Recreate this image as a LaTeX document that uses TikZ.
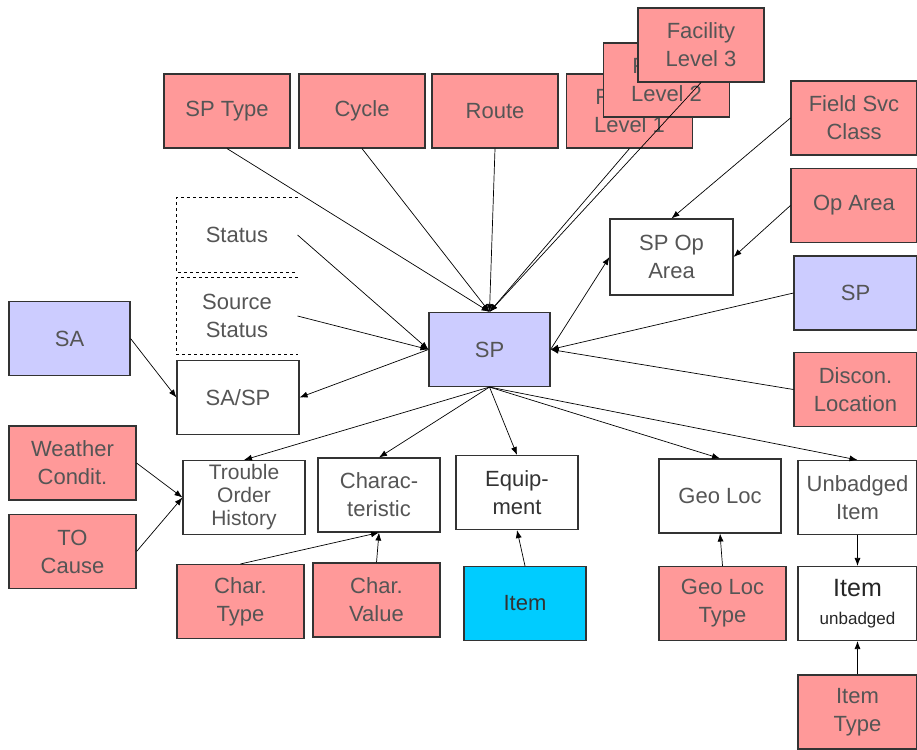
\documentclass[tikz,border=0pt]{standalone}
\usepackage{fontspec}
\setmainfont{Liberation Sans}
\usetikzlibrary{arrows.meta}

\definecolor{pinkfill}{HTML}{FF9999}
\definecolor{lavfill}{HTML}{CCCCFF}
\definecolor{cyanfill}{HTML}{00CCFF}
\definecolor{txtgray}{HTML}{555555}

\begin{document}
\begin{tikzpicture}[
        x=1pt, y=-1pt,
        box/.style={rectangle, draw=black!80, line width=1.1pt, minimum width=122pt, minimum height=74pt, inner sep=1pt, align=center, text=txtgray, font=\fontsize{22}{28}\selectfont},
        entity/.style={box, fill=pinkfill, minimum width=126pt},
        spbox/.style={box, fill=lavfill},
        plain/.style={box, fill=white},
        itembox/.style={box, fill=cyanfill, text=black!80},
        statebox/.style={box, draw=none},
        arr/.style={-{Latex[length=8pt,width=6pt]}, line width=0.7pt, black},
    ]
    \useasboundingbox (0,0) rectangle (917,749);

    % === top row ===
    \node[entity] (sptype) at (227,111) {SP Type};
    \node[entity] (cycle) at (362,111) {Cycle};
    \node[entity] (route) at (495,111) {Route};
    \node[entity] (fac1) at (629.5,111) {Facility\\Level 1};
    \node[entity] (fac2) at (666.5,80) {Facility\\Level 2};
    \node[entity] (fac3) at (701,45) {Facility\\Level 3};

    % === right column ===
    \node[entity] (fieldsvc) at (854,118) {Field Svc\\Class};
    \node[entity] (oparea) at (854,205.5) {Op Area};
    \node[spbox, minimum width=123pt] (spright) at (855.5,293) {SP};
    \node[entity, minimum width=123pt] (discon) at (855.5,389.5) {Discon.\\Location};
    \node[plain, minimum width=123pt, minimum height=76pt] (spoparea) at (671.5,257) {SP Op\\Area};

    % === centre ===
    \node[spbox, minimum width=121pt] (sp) at (489.5,349.5) {SP};

    \node[statebox, minimum width=120pt] (status) at (237,235) {Status};
    \node[statebox, minimum width=120pt, minimum height=76pt] (srcstatus) at (237,316) {Source\\Status};
    \draw[dashed, line width=1pt] (status.north east) -- (status.north west) -- (status.south west) -- (status.south east);
    \draw[dashed, line width=1pt] (srcstatus.north east) -- (srcstatus.north west) -- (srcstatus.south west) -- (srcstatus.south east);

    \node[spbox, minimum width=121pt] (sa) at (69.5,338.5) {SA};
    \node[plain] (sasp) at (238,397.5) {SA/SP};

    % === lower rows ===
    \node[entity, minimum width=127pt] (weather) at (72.5,463) {Weather\\Condit.};
    \node[entity, minimum width=127pt] (tocause) at (72.5,551.5) {TO\\Cause};
    \node[plain, font=\fontsize{21}{23}\selectfont] (toh) at (244,497.5) {Trouble\\Order\\History};
    \node[plain] (charac) at (379,495) {Charac-\\teristic};
    \node[plain, text=black!80] (equip) at (517,492.5) {Equip-\\ment};
    \node[plain] (geoloc) at (720,496) {Geo Loc};
    \node[plain, minimum width=119pt] (unbadged) at (857.5,497.5) {Unbadged\\Item};

    \node[entity, minimum width=127pt] (chartype) at (240.5,601.5) {Char.\\Type};
    \node[entity, minimum width=127pt] (charvalue) at (376.5,600) {Char.\\Value};
    \node[itembox] (item) at (525,603.5) {Item};
    \node[entity, minimum width=127pt] (geoloctype) at (722.5,603.5) {Geo Loc\\Type};
    \node[plain, minimum width=119pt, text=black!85] (itemunb) at (857.5,603.5) {{\fontsize{25}{30}\selectfont Item}\\{\fontsize{17}{20}\selectfont unbadged}};
    \node[entity, minimum width=119pt] (itemtype) at (857.5,712) {Item\\Type};

    % === connectors into SP ===
    \draw[arr] (sptype.south) -- (sp.north);
    \draw[arr] (cycle.south) -- (sp.north);
    \draw[arr] (route.south) -- (sp.north);
    \draw[arr] (fac1.south) -- (sp.north);
    \draw[arr] (fac3.south) -- (sp.north);
    \draw[arr] (status.east) -- (sp.west);
    \draw[arr] (srcstatus.east) -- (sp.west);
    \draw[arr] (spright.west) -- (sp.east);
    \draw[arr] (discon.west) -- (sp.east);

    % === connectors out of SP ===
    \draw[arr] (sp.west) -- (sasp.east);
    \draw[arr] (sp.east) -- (spoparea.west);
    \draw[arr] (sp.south) -- (toh.north);
    \draw[arr] (sp.south) -- (charac.north);
    \draw[arr] (sp.south) -- (equip.north);
    \draw[arr] (sp.south) -- (geoloc.north);
    \draw[arr] (sp.south) -- (unbadged.north);

    % === other connectors ===
    \draw[arr] (sa.east) -- (sasp.west);
    \draw[arr] (fieldsvc.west) -- (spoparea.north);
    \draw[arr] (oparea.west) -- (spoparea.east);
    \draw[arr] (weather.east) -- (toh.west);
    \draw[arr] (tocause.east) -- (toh.west);
    \draw[arr] (chartype.north) -- (charac.south);
    \draw[arr] (charvalue.north) -- (charac.south);
    \draw[arr] (item.north) -- (equip.south);
    \draw[arr] (geoloctype.north) -- (geoloc.south);
    \draw[arr] (unbadged.south) -- (itemunb.north);
    \draw[arr] (itemtype.north) -- (itemunb.south);

\end{tikzpicture}
\end{document}
